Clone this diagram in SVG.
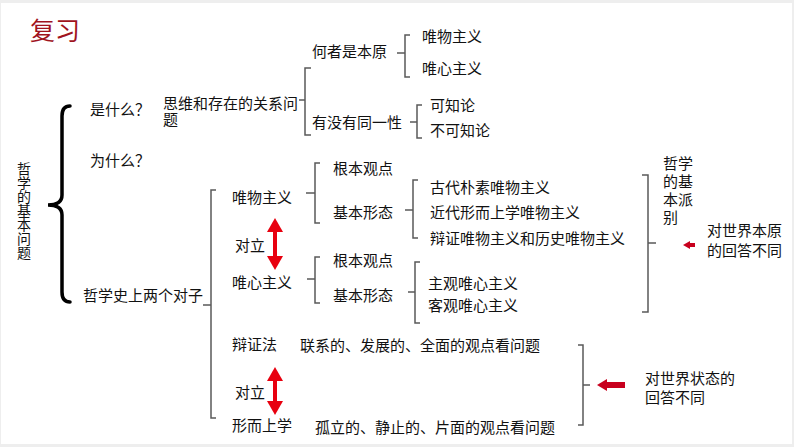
<svg xmlns="http://www.w3.org/2000/svg" width="794" height="447" viewBox="0 0 794 447">
<style>
text{font-family:"Noto Sans CJK SC","Liberation Sans",sans-serif;font-size:15px;fill:#111}
.title{font-size:25px;fill:#a0141e}
.vert{font-size:14px;writing-mode:vertical-rl}
.br{fill:none;stroke:#5a5a5a;stroke-width:1.5}
.brace{fill:none;stroke:#000;stroke-width:3.5;stroke-linecap:round}
.dbl{stroke:#e8000f;stroke-width:4}
.lft{stroke:#c8001e}
</style>
<defs>
<marker id="rh" viewBox="0 0 14 16" refX="2" refY="8" markerWidth="14" markerHeight="16" markerUnits="userSpaceOnUse" orient="auto-start-reverse">
<path d="M0,0 L14,8 L0,16 z" fill="#e8000f"/>
</marker>
<marker id="dh" viewBox="0 0 10 12" refX="1" refY="6" markerWidth="10" markerHeight="12" markerUnits="userSpaceOnUse" orient="auto">
<path d="M0,0 L10,6 L0,12 z" fill="#c8001e"/>
</marker>
<marker id="sh" viewBox="0 0 7 8" refX="1" refY="4" markerWidth="7" markerHeight="8" markerUnits="userSpaceOnUse" orient="auto">
<path d="M0,0 L7,4 L0,8 z" fill="#c8001e"/>
</marker>
</defs>
<rect x="0" y="0" width="794" height="447" fill="#eeeeee"/>
<rect x="1" y="3" width="791" height="441" fill="#ffffff"/>
<text class="title" x="30" y="40">复习</text>

<g id="connectors">
<path class="brace" d="M70,106 Q62,106 62,116 L62,195 Q62,205 48,205 Q62,205 62,215 L62,292 Q62,302 70,302"/>
<path class="br" d="M311,68 H305 V135 H311 M299,100 H305"/>
<path class="br" d="M410,35 H405 V77 H410 M397,53 H405"/>
<path class="br" d="M422,105 H417 V138 H422 M410,122 H417"/>
<path class="br" d="M216,190 H211 V418 H216 M203,305 H211"/>
<path class="br" d="M320,163 H315 V223 H320 M306,193 H315"/>
<path class="br" d="M418,180 H413 V238 H418 M405,210 H413"/>
<path class="br" d="M320,257 H315 V303 H320 M307,279 H315"/>
<path class="br" d="M420,262 H415 V323 H420 M408,292 H415"/>
<path class="br" d="M642,175 H648 V312 H642 M648,243 H656"/>
<path class="br" d="M578,345 H583 V425 H578 M583,385 H590"/>
<line class="dbl" x1="275" y1="230" x2="275" y2="258" marker-start="url(#rh)" marker-end="url(#rh)"/>
<line class="dbl" x1="275" y1="379" x2="275" y2="403" marker-start="url(#rh)" marker-end="url(#rh)"/>
<line class="lft" x1="625" y1="385" x2="606" y2="385" stroke-width="6" marker-end="url(#dh)"/>
<line class="lft" x1="695" y1="245" x2="689" y2="245" stroke-width="4" marker-end="url(#sh)"/>
</g>

<g id="n-root"><text class="vert" x="24" y="162">哲学的基本问题</text></g>
<g id="n-what"><text x="90" y="115">是什么？</text></g>
<g id="n-why"><text x="90" y="165.5">为什么？</text></g>
<g id="n-relation"><text x="163" y="109"><tspan x="163">思维和存在的关系问</tspan><tspan x="163" dy="16">题</tspan></text></g>
<g id="n-origin"><text x="312" y="56.5">何者是本原</text></g>
<g id="n-mat1"><text x="422" y="41.5">唯物主义</text></g>
<g id="n-ide1"><text x="422" y="73.5">唯心主义</text></g>
<g id="n-identity"><text x="312" y="127.5">有没有同一性</text></g>
<g id="n-know"><text x="430" y="110.5">可知论</text></g>
<g id="n-unknow"><text x="430" y="135.5">不可知论</text></g>
<g id="n-pairs"><text x="83" y="300.5">哲学史上两个对子</text></g>
<g id="n-mat2"><text x="232" y="202.5">唯物主义</text></g>
<g id="n-opp1"><text x="235" y="250.5">对立</text></g>
<g id="n-ide2"><text x="232" y="287.5">唯心主义</text></g>
<g id="n-dia"><text x="232" y="349.5">辩证法</text></g>
<g id="n-opp2"><text x="235" y="397.5">对立</text></g>
<g id="n-meta"><text x="232" y="430.5">形而上学</text></g>
<g id="n-view1"><text x="333" y="173.5">根本观点</text></g>
<g id="n-form1"><text x="333" y="217.5">基本形态</text></g>
<g id="n-ancient"><text x="430" y="192.5">古代朴素唯物主义</text></g>
<g id="n-modern"><text x="430" y="217.5">近代形而上学唯物主义</text></g>
<g id="n-dialmat"><text x="430" y="243.5">辩证唯物主义和历史唯物主义</text></g>
<g id="n-view2"><text x="333" y="265.5">根本观点</text></g>
<g id="n-form2"><text x="333" y="300.5">基本形态</text></g>
<g id="n-subj"><text x="428" y="288.5">主观唯心主义</text></g>
<g id="n-obj"><text x="428" y="310.5">客观唯心主义</text></g>
<g id="n-diadesc"><text x="300" y="350.5">联系的、发展的、全面的观点看问题</text></g>
<g id="n-metadesc"><text x="315" y="432.5">孤立的、静止的、片面的观点看问题</text></g>
<g id="n-schools"><text x="663" y="168.5"><tspan x="663">哲学</tspan><tspan x="663" dy="18.5">的基</tspan><tspan x="663" dy="18">本派</tspan><tspan x="663" dy="18">别</tspan></text></g>
<g id="n-ans1"><text x="707" y="235.5"><tspan x="707">对世界本原</tspan><tspan x="707" dy="20">的回答不同</tspan></text></g>
<g id="n-ans2"><text x="645" y="383.5"><tspan x="645">对世界状态的</tspan><tspan x="645" dy="19">回答不同</tspan></text></g>
</svg>
